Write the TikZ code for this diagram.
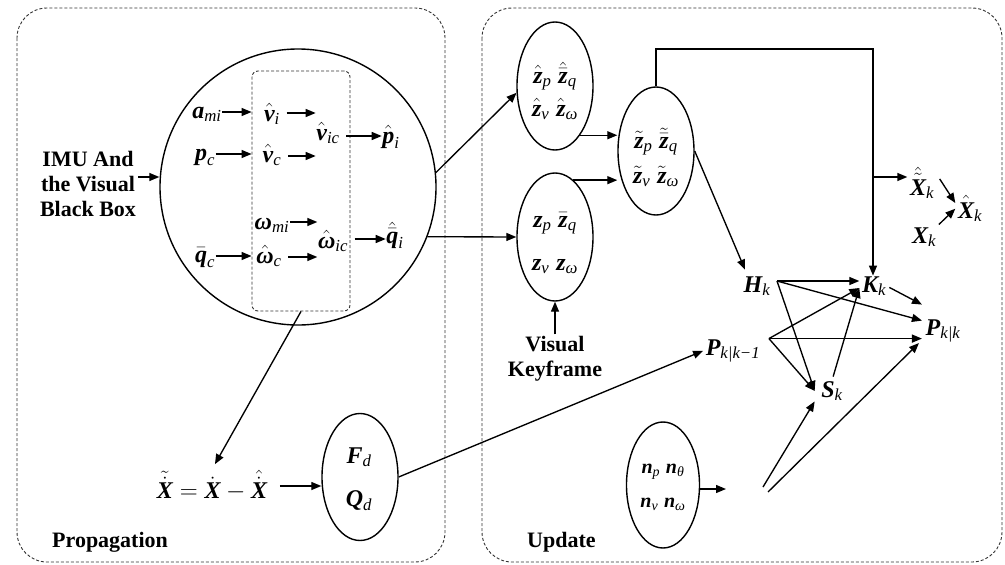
\documentclass[tikz,border=0pt]{standalone}
\usepackage{amsmath}
\usepackage{fontspec}
\setmainfont{Liberation Serif}
\usetikzlibrary{arrows.meta,shapes.geometric}

% bold italic vector letters and italic indices, set in the text face
\newcommand{\vb}[1]{\text{\normalfont\bfseries\itshape #1}}
\newcommand{\ix}[1]{\text{\normalfont\itshape #1}}

\tikzset{
  arr/.style={-{Triangle[length=10pt,width=8pt]}, line width=1.35pt},
  sym/.style={font=\fontsize{24}{28}\selectfont, inner sep=0.5pt, anchor=base},
  smallsym/.style={font=\fontsize{20}{23}\selectfont, inner sep=0.5pt, anchor=base},
  lbl/.style={font=\fontsize{22}{25}\selectfont\bfseries, align=center, inner sep=2pt},
  bubble/.style={draw, ellipse, line width=1.4pt, minimum width=76pt, minimum height=128pt, inner sep=0pt},
  panel/.style={draw=black!80, line width=0.9pt, dash pattern=on 3pt off 2pt, rounded corners=30pt},
}

\begin{document}
\begin{tikzpicture}[x=1pt,y=-1pt]
\useasboundingbox (0,0) rectangle (1005,565);

% the two stages
\draw[panel] (17,8) rectangle (445,562);
\draw[panel] (482,8) rectangle (1002,562);

% ---------------- propagation ----------------
\node[draw, circle, line width=1.4pt, minimum size=276pt, inner sep=0pt] (big) at (298,187) {};
\node[draw=black!80, line width=0.9pt, dash pattern=on 3pt off 2pt, rounded corners=6pt,
      minimum width=98pt, minimum height=240pt] (core) at (301,191) {};

\node[lbl] (imu) at (88,184) {IMU And\\the Visual\\Black Box};
\draw[arr] ([yshift=7pt]imu.east) -- ([yshift=7pt]imu.east -| big.west);

\node[sym] (ami) at (207,118) {$\vb{a}_{\ix{mi}}$};
\node[sym] (vi)  at (272,121) {$\hat{\vb{v}}_{\ix{i}}$};
\node[sym] (vic) at (328,140) {$\hat{\vb{v}}_{\ix{ic}}$};
\node[sym] (pi)  at (391,143) {$\hat{\vb{p}}_{\ix{i}}$};
\node[sym] (pc)  at (205,160) {$\vb{p}_{\ix{c}}$};
\node[sym] (vc)  at (272,162) {$\hat{\vb{v}}_{\ix{c}}$};
\node[sym] (wmi) at (272,229) {$\vb{ω}_{\ix{mi}}$};
\node[sym] (wic) at (333,248) {$\hat{\vb{ω}}_{\ix{ic}}$};
\node[sym] (qi)  at (395,243) {$\hat{\bar{\vb{q}}}_{\ix{i}}$};
\node[sym] (qc)  at (205,262) {$\bar{\vb{q}}_{\ix{c}}$};
\node[sym] (wc)  at (269,263) {$\hat{\vb{ω}}_{\ix{c}}$};

\draw[arr] ([yshift=6pt]ami.base east) -- ([yshift=6pt]ami.base east -| core.west);
\draw[arr] ([yshift=6pt]pc.base east) -- ([yshift=6pt]pc.base east -| core.west);
\draw[arr] ([yshift=6pt]qc.base east) -- ([yshift=6pt]qc.base east -| core.west);
\draw[arr, shorten <=6pt] ([yshift=8pt]vi.base east) -- ([yshift=8pt]vi.base east -| vic.west);
\draw[arr, shorten <=6pt] ([yshift=6pt]vc.base east) -- ([yshift=6pt]vc.base east -| vic.west);
\draw[arr, shorten <=6pt] ([yshift=4pt]vic.base east) -- ([yshift=4pt]vic.base east -| pi.west);
\draw[arr] ([yshift=7pt]wmi.base east) -- ([yshift=7pt]wmi.base east -| wic.west);
\draw[arr, shorten <=6pt] ([yshift=6pt]wc.base east) -- ([yshift=6pt]wc.base east -| wic.west);
\draw[arr, shorten <=6pt] ([yshift=9pt]wic.base east) -- ([yshift=9pt]wic.base east -| qi.west);

\node[sym] (xt) at (212,498) {$\tilde{\dot{\vb{X}}} = \dot{\vb{X}} - \hat{\dot{\vb{X}}}$};
\draw[arr, shorten >=6pt] (core.south) -- (xt.north);

\node[bubble, minimum width=76pt, minimum height=127pt] (fq) at (360,477) {};
\node[sym] (fd) at (359,463) {$\vb{F}_{\ix{d}}$};
\node[sym] (qd) at (359,506) {$\vb{Q}_{\ix{d}}$};
\draw[arr, shorten <=12pt] ([yshift=12pt]xt.base east) -- ([yshift=12pt]xt.base east -| fq.west);

\node[lbl, anchor=base west] (proplbl) at (50,547) {Propagation};

% ---------------- update ----------------
\node[bubble] (e1) at (555,86) {};
\node[sym] (e1a) at (555,83)  {$\hat{\vb{z}}_{\ix{p}}\;\hat{\bar{\vb{z}}}_{\ix{q}}$};
\node[sym] (e1b) at (555,116) {$\hat{\vb{z}}_{\ix{v}}\;\hat{\vb{z}}_{\ix{ω}}$};

\node[bubble] (e2) at (555,237) {};
\node[sym] (e2a) at (555,227) {$\vb{z}_{\ix{p}}\;\bar{\vb{z}}_{\ix{q}}$};
\node[sym] (e2b) at (555,270) {$\vb{z}_{\ix{v}}\;\vb{z}_{\ix{ω}}$};

\node[bubble] (e3) at (656,151) {};
\node[sym] (e3a) at (656,148) {$\tilde{\vb{z}}_{\ix{p}}\;\tilde{\bar{\vb{z}}}_{\ix{q}}$};
\node[sym] (e3b) at (656,183) {$\tilde{\vb{z}}_{\ix{v}}\;\tilde{\vb{z}}_{\ix{ω}}$};

\node[bubble, minimum width=73pt, minimum height=126pt] (en) at (663,485) {};
\node[smallsym] (ena) at (663,473) {$\vb{n}_{\ix{p}}\;\vb{n}_{\ix{θ}}$};
\node[smallsym] (enb) at (663,507) {$\vb{n}_{\ix{v}}\;\vb{n}_{\ix{ω}}$};

\draw[arr] (big.6) -- (e1.190);
\draw[arr] (big.-21) -- (e2.west);
\draw[arr] (e1.-63) -- (e1.-63 -| e3.west);
\draw[arr] (e2.72) -- (e2.72 -| e3.west);

\node[lbl] (vk) at (555,359) {Visual\\Keyframe};
\draw[arr] (vk.north) -- (e2.south);

\node[sym] (hk)   at (757,292) {$\vb{H}_{\ix{k}}$};
\node[sym] (kk)   at (874,292) {$\vb{K}_{\ix{k}}$};
\node[sym] (pkk)  at (943,335) {$\vb{P}_{\ix{k|k}}$};
\node[sym] (sk)   at (832,397) {$\vb{S}_{\ix{k}}$};
\node[sym] (pkk1) at (733,355) {$\vb{P}_{\ix{k|k−1}}$};
\node[sym] (xth)  at (922,195) {$\hat{\tilde{\vb{X}}}_{\ix{k}}$};
\node[sym] (xh)   at (970,218) {$\hat{\vb{X}}_{\ix{k}}$};
\node[sym] (xk)   at (924,243) {$\vb{X}_{\ix{k}}$};

\draw[arr] (fq.east) -- ([xshift=-2pt]pkk1.west);

\coordinate (tr) at (873,49);
\coordinate (br) at (873,177);
\draw[arr] (e3.north) |- (tr) -- (tr |- kk.north);
\draw[arr] (br) -- ([xshift=-2pt]br -| xth.west);
\draw[arr] ([xshift=5pt,yshift=4pt]xth.east) -- ([xshift=-2pt,yshift=-8pt]xh.north west);
\draw[arr, shorten <=3pt] (xk.north east) -- ([xshift=-2pt]xh.west);

\draw[arr] (e3.east) -- ([xshift=2pt,yshift=6pt]hk.north west);

\coordinate (hb) at ([xshift=6pt,yshift=5pt]hk.east);
\coordinate (pb) at ([xshift=8pt]pkk1.north east);
\draw[arr] (hb) -- ([xshift=-2pt]hb -| kk.west);
\draw[arr] (hb) -- ([xshift=-3pt,yshift=-2pt]pkk.north west);
\draw[arr] (hb) -- ([xshift=-6pt]sk.west);
\draw[arr] (pb) -- ([xshift=-2pt,yshift=-2pt]kk.west);
\draw[arr] (pb) -- ([xshift=-3pt]pb -| pkk.west);
\draw[arr] (pb) -- ([xshift=-6pt]sk.west);
\draw[arr, shorten <=4pt] (sk.north) -- ([xshift=-2pt,yshift=-2pt]kk.west);
\draw[arr, shorten <=3pt] (kk.east) -- ([xshift=-3pt,yshift=14pt]pkk.north west);

\coordinate (nt) at (726,489);
\coordinate (n1) at (763,487);
\coordinate (n2) at (768,492);
\draw[arr] (en.east |- nt) -- (nt);
\draw[arr] (n1) -- ([xshift=-6pt]sk.south west);
\draw[arr] (n2) -- ([xshift=-6pt]pkk.south west);

\node[lbl, anchor=base west] (updlbl) at (525,547) {Update};
\end{tikzpicture}
\end{document}
